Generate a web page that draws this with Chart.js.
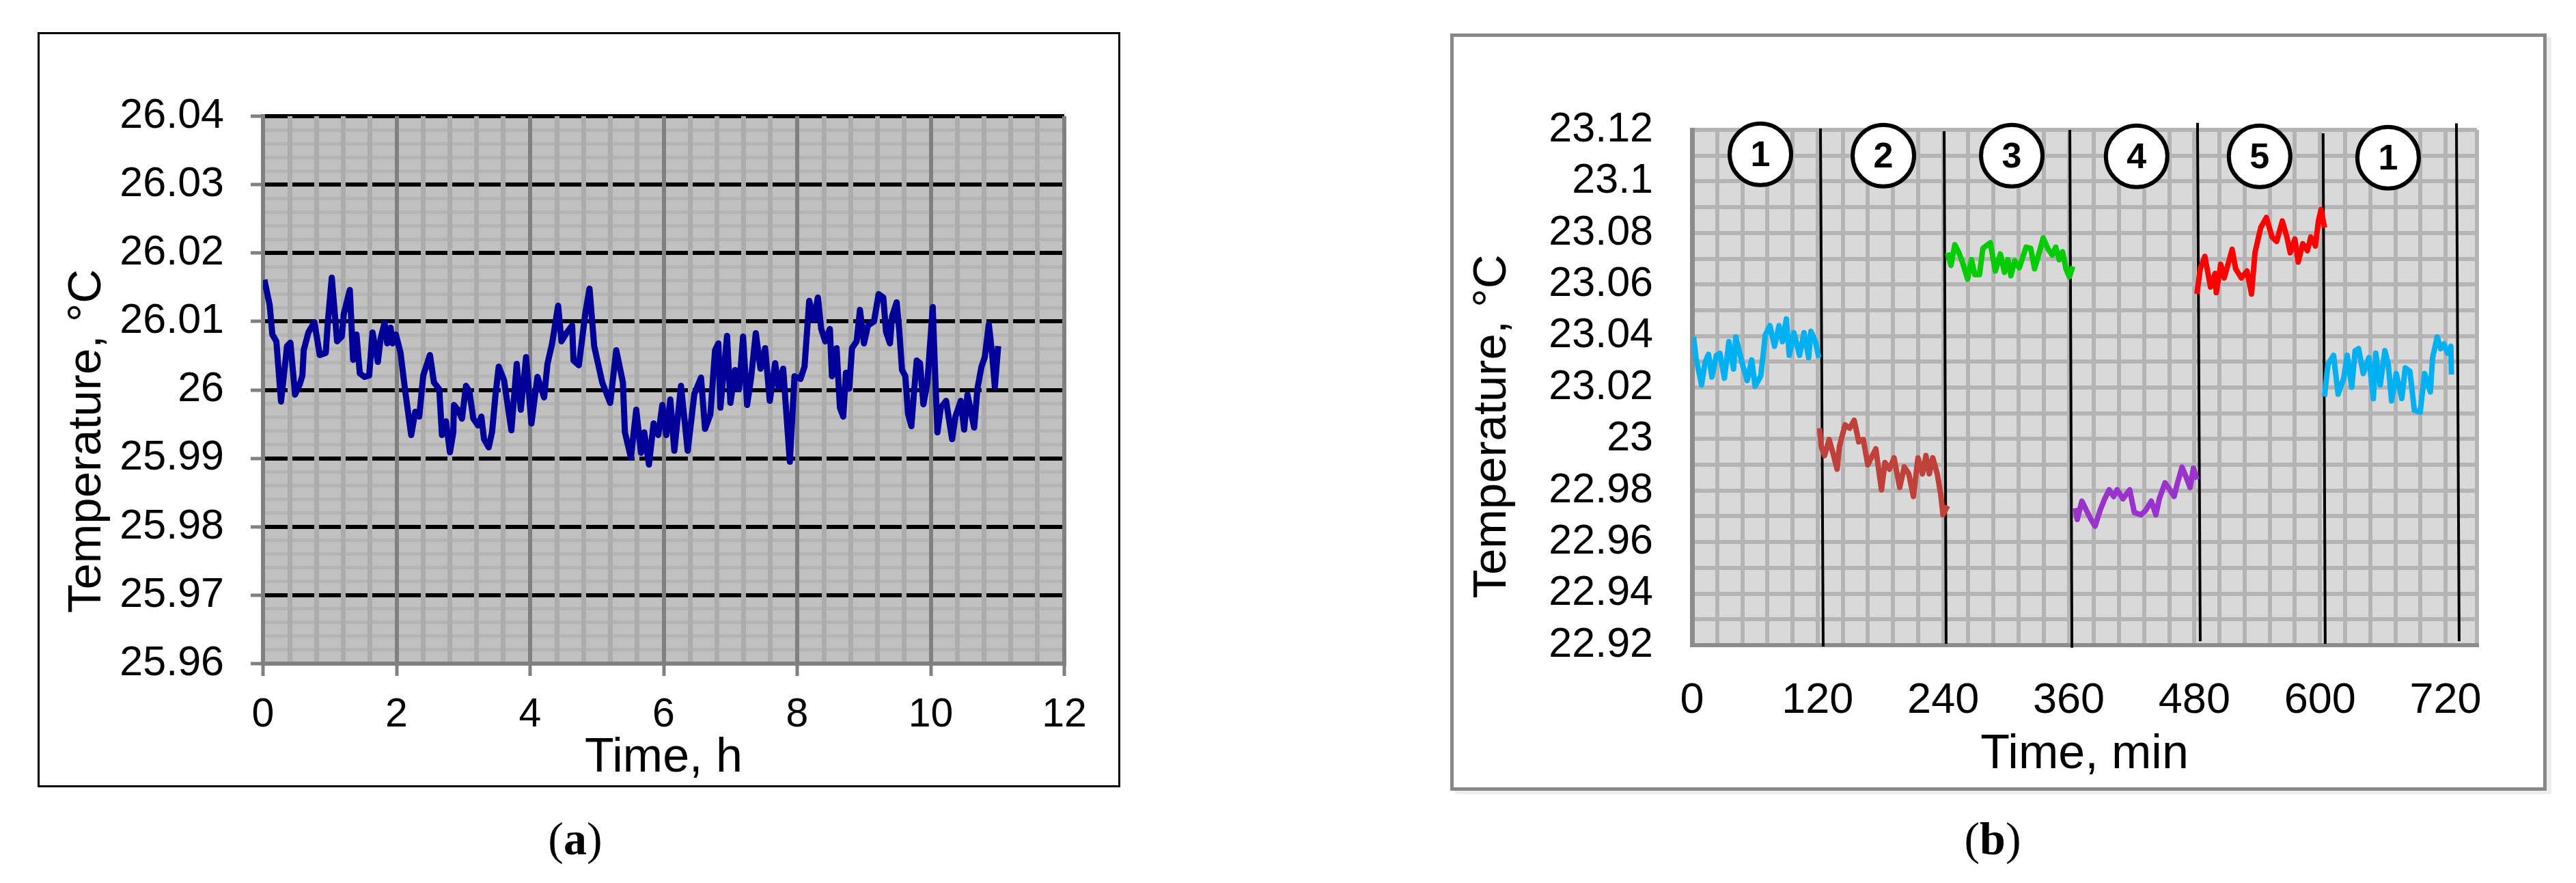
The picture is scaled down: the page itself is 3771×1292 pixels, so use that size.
<!DOCTYPE html>
<html>
<head>
<meta charset="utf-8">
<script src="https://cdn.jsdelivr.net/npm/chart.js@4.4.1/dist/chart.umd.min.js"></script>
<style>
body{margin:0;background:#fff;width:3771px;height:1292px;position:relative;overflow:hidden}
#boxA{position:absolute;left:55px;top:47px;width:1585px;height:1105px;border:3px solid #000;box-sizing:border-box}
#boxB{position:absolute;left:2123px;top:49px;width:1605px;height:1108px;border:5px solid #888;box-sizing:border-box;box-shadow:7px 5px 0 #efefef}
canvas{display:block}
.cap{position:absolute;font-family:"Liberation Serif","Times New Roman",serif;font-size:68px;line-height:1;transform:translate(-50%,-50%)}
</style>
</head>
<body>
<div id="boxA"><canvas id="chartA" width="1579" height="1099"></canvas></div>
<div id="boxB"><canvas id="chartB" width="1595" height="1098"></canvas></div>
<div class="cap" style="left:842px;top:1227px">(<b>a</b>)</div>
<div class="cap" style="left:2917px;top:1227px">(<b>b</b>)</div>
<script>
// ---- panel (a): temperature over 11 hours
var aHours = [0.02,0.10,0.14,0.20,0.27,0.36,0.41,0.48,0.55,0.59,0.61,0.68,0.77,0.85,0.94,0.97,1.03,1.11,1.18,1.21,
  1.30,1.35,1.40,1.45,1.52,1.59,1.64,1.72,1.76,1.82,1.86,1.91,1.94,1.99,2.06,2.13,2.22,2.28,2.34,2.40,
  2.50,2.56,2.64,2.68,2.74,2.80,2.85,2.86,2.92,2.98,3.04,3.09,3.15,3.22,3.27,3.31,3.38,3.43,3.48,3.53,
  3.61,3.67,3.72,3.80,3.86,3.94,4.02,4.11,4.21,4.26,4.33,4.42,4.47,4.55,4.63,4.65,4.73,4.83,4.89,4.96,
  5.08,5.20,5.29,5.39,5.42,5.51,5.59,5.66,5.71,5.78,5.85,5.92,5.98,6.04,6.10,6.16,6.26,6.36,6.46,6.56,
  6.62,6.70,6.77,6.82,6.85,6.95,7.00,7.07,7.13,7.19,7.25,7.31,7.38,7.45,7.52,7.59,7.67,7.72,7.79,7.89,
  7.96,8.05,8.11,8.18,8.25,8.31,8.36,8.42,8.49,8.52,8.59,8.64,8.69,8.73,8.78,8.82,8.89,8.94,9.00,9.06,
  9.15,9.22,9.29,9.33,9.39,9.42,9.49,9.53,9.57,9.62,9.66,9.71,9.75,9.79,9.84,9.89,9.95,10.03,10.06,10.10,
  10.15,10.23,10.32,10.37,10.45,10.50,10.55,10.65,10.70,10.76,10.81,10.87,10.92,10.96,11.01];
var aTemp = [26.0161,26.0124,26.0081,26.0071,25.9983,26.0064,26.0069,25.9993,26.0008,26.0021,26.0058,26.0084,26.0099,26.0051,26.0054,26.0098,26.0164,26.0071,26.0078,26.0111,
  26.0146,26.0044,26.0081,26.0024,26.0019,26.0021,26.0084,26.0041,26.0074,26.0098,26.0068,26.0091,26.0068,26.0081,26.0054,25.9998,25.9934,25.9968,25.9961,26.0021,
  26.0051,26.0011,26.0001,25.9934,25.9954,25.9909,25.9938,25.9978,25.9971,25.9958,26.0006,25.9998,25.9958,25.9948,25.9961,25.9928,25.9916,25.9938,25.9991,26.0034,
  26.0014,25.9974,25.9941,26.0038,25.9971,26.0048,25.9951,26.0019,25.9989,26.0038,26.0068,26.0123,26.0071,26.0084,26.0094,26.0043,26.0036,26.0114,26.0148,26.0064,
  26.0011,25.9981,26.0058,26.0011,25.9938,25.9901,25.9971,25.9908,25.9938,25.9891,25.9951,25.9934,25.9978,25.9934,25.9986,25.9911,26.0006,25.9911,25.9994,26.0018,
  25.9943,25.9964,26.0058,26.0068,25.9974,26.0079,25.9981,26.0029,26.0001,26.0078,25.9978,26.0018,26.0083,26.0031,26.0061,25.9984,26.0039,26.0004,26.0031,25.9895,
  26.0020,26.0016,26.0034,26.0130,26.0103,26.0135,26.0089,26.0071,26.0089,26.0020,26.0061,25.9974,25.9961,26.0025,26.0002,26.0061,26.0071,26.0117,26.0068,26.0094,
  26.0100,26.0140,26.0135,26.0085,26.0068,26.0107,26.0128,26.0085,26.0029,26.0020,25.9965,25.9947,25.9997,26.0043,26.0039,25.9979,26.0011,26.0121,26.0039,25.9938,
  25.9974,25.9984,25.9928,25.9961,25.9984,25.9942,25.9993,25.9945,26.0002,26.0034,26.0048,26.0096,26.0052,26.0004,26.0064];

// ---- panel (b): six measurement runs
var b1Min = [1.5,3.7,9.1,12.4,15.7,18.9,23.3,26.6,30.9,35.2,39.6,41.8,48.3,52.7,57.0,60.2,65.7,70.0,74.4,78.8,83.1,86.4,90.1,92.9,97.3,102.7,107.0,111.4,113.6,117.9,121.2];
var b1Temp = [23.0396,23.0316,23.0210,23.0298,23.0329,23.0241,23.0325,23.0333,23.0236,23.0378,23.0272,23.0396,23.0289,23.0227,23.0307,23.0205,23.0245,23.0404,23.0440,23.0360,23.0440,23.0378,23.0466,23.0325,23.0413,23.0325,23.0413,23.0316,23.0418,23.0378,23.0316];
var b2Min = [121.9,123.4,126.6,131.0,135.3,138.6,140.8,146.2,150.6,154.9,159.3,163.6,168.0,172.3,175.6,181.0,184.3,188.6,193.0,198.4,202.8,207.1,211.5,215.9,220.2,223.5,226.7,230.0,234.3,237.6,239.8,244.1];
var b2Temp = [23.0042,22.9971,22.9936,22.9998,22.9936,22.9883,22.9971,23.0055,23.0042,23.0073,22.9989,22.9998,22.9900,22.9936,22.9962,22.9803,22.9909,22.9883,22.9927,22.9812,22.9892,22.9865,22.9777,22.9927,22.9865,22.9936,22.9865,22.9927,22.9865,22.9786,22.9706,22.9741];
var b3Min = [244.1,247.4,251.1,255.0,258.3,263.3,267.0,270.2,274.6,277.9,285.0,289.8,294.6,298.5,301.8,304.7,308.3,312.7,319.2,323.6,327.3,330.1,335.5,339.9,344.2,347.5,350.8,354.0,357.3,360.5,363.8];
var b3Temp = [23.0723,23.0674,23.0754,23.0723,23.0687,23.0621,23.0696,23.0638,23.0638,23.0740,23.0762,23.0652,23.0718,23.0647,23.0696,23.0634,23.0692,23.0665,23.0745,23.0740,23.0661,23.0700,23.0780,23.0740,23.0714,23.0745,23.0696,23.0727,23.0661,23.0630,23.0670];
var b4Min = [366.0,368.1,372.5,376.8,381.2,385.1,389.9,394.3,398.6,402.9,406.2,411.7,418.2,422.6,429.1,433.4,438.8,443.2,446.5,451.9,455.2,460.6,463.9,468.2,472.6,475.9,479.1,482.4];
var b4Temp = [22.9732,22.9688,22.9759,22.9723,22.9688,22.9662,22.9723,22.9768,22.9803,22.9777,22.9803,22.9768,22.9803,22.9715,22.9706,22.9723,22.9759,22.9706,22.9768,22.9830,22.9812,22.9777,22.9830,22.9891,22.9847,22.9812,22.9887,22.9843];
var b5Min = [482.4,485.6,490.0,495.4,499.8,500.9,505.2,508.5,516.1,519.4,524.8,530.3,534.6,537.9,543.3,548.8,554.2,558.6,564.0,568.4,571.6,576.0,579.2,583.6,588.0,591.2,595.6,598.5,601.1,604.3];
var b5Temp = [23.0563,23.0661,23.0709,23.0590,23.0643,23.0568,23.0678,23.0625,23.0736,23.0661,23.0625,23.0652,23.0563,23.0723,23.0820,23.0860,23.0784,23.0767,23.0846,23.0784,23.0723,23.0776,23.0687,23.0758,23.0731,23.0784,23.0749,23.0846,23.0891,23.0820];
var b6Min = [604.3,607.6,613.0,617.3,622.7,626.0,630.4,633.6,636.9,641.3,646.7,651.0,653.3,657.6,662.0,665.3,668.4,672.9,678.2,681.5,685.9,690.2,695.7,700.0,705.5,707.6,712.0,715.3,718.5,721.8,725.1,725.6];
var b6Temp = [23.0165,23.0289,23.0325,23.0174,23.0236,23.0325,23.0201,23.0343,23.0351,23.0254,23.0316,23.0157,23.0333,23.0210,23.0343,23.0289,23.0148,23.0254,23.0157,23.0276,23.0263,23.0112,23.0104,23.0254,23.0183,23.0316,23.0396,23.0351,23.0369,23.0333,23.0360,23.0250];
var segColors = ['#00b0f0', '#c0403a', '#00cc00', '#9933cc', '#ff0000', '#00b0f0'];

// black separator lines between runs
var sepTopMin = [122.7, 240.9, 361.0, 483.0, 603.0, 730.4];
var sepBotMin = [125.3, 242.8, 363.0, 485.6, 605.0, 733.0];
var sepTopTemp = [23.1205, 23.1195, 23.1200, 23.1227, 23.1187, 23.1225];
var sepBotTemp = [22.9195, 22.9205, 22.9190, 22.9215, 22.9205, 22.9215];

// circled run numbers
var circleMin = [65.3, 182.8, 305.5, 424.8, 542.3, 665.1];
var circleTemp = [23.1105, 23.1100, 23.1100, 23.1097, 23.1097, 23.1092];
var circleText = ['1', '2', '3', '4', '5', '1'];

var FAM = '"Liberation Sans", Arial, sans-serif';
Chart.defaults.color = '#000';
Chart.defaults.font.family = FAM;

function pts(xs, ys) {
	return xs.map(function(x, i) { return {x: x, y: ys[i]}; });
}
function fmt(v) {
	return String(Number(v.toFixed(2)));
}

var plotBg = {
	id: 'plotBg',
	beforeDraw: function(chart, args, opts) {
		var a = chart.chartArea, c = chart.ctx;
		c.save();
		c.fillStyle = opts.color;
		c.fillRect(a.left, a.top, a.right - a.left, a.bottom - a.top);
		c.restore();
	}
};
var yTitle = {
	id: 'yTitle',
	afterDraw: function(chart, args, opts) {
		var a = chart.chartArea, c = chart.ctx;
		c.save();
		c.translate(a.left + opts.dx, (a.top + a.bottom) / 2 + opts.dy);
		c.rotate(-Math.PI / 2);
		c.font = '69px ' + FAM;
		c.fillStyle = '#000';
		c.textAlign = 'center';
		c.textBaseline = 'middle';
		c.fillText(opts.text, 0, 0);
		c.restore();
	}
};
var circleNums = {
	id: 'circleNums',
	afterDatasetsDraw: function(chart, args, opts) {
		var meta = chart.getDatasetMeta(opts.index), c = chart.ctx;
		c.save();
		c.font = 'bold 52px ' + FAM;
		c.fillStyle = '#000';
		c.textAlign = 'center';
		c.textBaseline = 'middle';
		meta.data.forEach(function(p, i) { c.fillText(circleText[i], p.x, p.y + 3); });
		c.restore();
	}
};

// ---------- chart (a)
function isMajorA_y(v) { return Math.abs(v * 100 - Math.round(v * 100)) < 1e-6; }
function isMajorA_x(v) { return Math.abs(v / 2 - Math.round(v / 2)) < 1e-6; }

new Chart(document.getElementById('chartA'), {
	type: 'scatter',
	data: {
		datasets: [{
			data: pts(aHours, aTemp),
			showLine: true,
			borderColor: '#000099',
			borderWidth: 9,
			borderJoinStyle: 'round',
			pointRadius: 0,
			tension: 0
		}]
	},
	options: {
		responsive: false,
		animation: false,
		events: [],
		layout: {padding: {left: 0, right: 79, top: 120, bottom: 0}},
		plugins: {
			legend: {display: false},
			tooltip: {enabled: false},
			plotBg: {color: '#c0c0c0'},
			yTitle: {text: 'Temperature, °C', dx: -257, dy: 75}
		},
		scales: {
			y: {
				min: 25.96, max: 26.04,
				afterFit: function(s) { s.width = 327; },
				ticks: {
					stepSize: 0.002, autoSkip: false, padding: 39,
					font: {size: 61},
					callback: function(v) { return isMajorA_y(v) ? fmt(v) : ''; }
				},
				grid: {
					z: -2,
					color: function(c) {
						var v = c.tick.value;
						if (Math.abs(v - 25.96) < 1e-6) return '#808080';
						return isMajorA_y(v) ? '#000000' : '#b4b4b4';
					},
					lineWidth: function(c) { return isMajorA_y(c.tick.value) ? 6 : 5; },
					tickLength: 18,
					tickWidth: 5,
					tickColor: function(c) { return isMajorA_y(c.tick.value) ? '#808080' : 'rgba(0,0,0,0)'; }
				},
				border: {color: '#808080', width: 6}
			},
			x: {
				min: 0, max: 12,
				afterFit: function(s) { s.height = 178; },
				ticks: {
					stepSize: 0.4, autoSkip: false, maxRotation: 0, padding: 22,
					font: {size: 59},
					callback: function(v) { return isMajorA_x(v) ? fmt(v) : ''; }
				},
				grid: {
					z: -1,
					color: function(c) { return isMajorA_x(c.tick.value) ? '#808080' : '#acacac'; },
					lineWidth: function(c) { return isMajorA_x(c.tick.value) ? 6 : 7; },
					tickLength: 18,
					tickWidth: 5,
					tickColor: function(c) { return isMajorA_x(c.tick.value) ? '#808080' : 'rgba(0,0,0,0)'; }
				},
				border: {color: '#808080', width: 6},
				title: {display: true, text: 'Time, h', font: {size: 70, lineHeight: 1}, padding: {top: 4, bottom: 4}}
			}
		}
	},
	plugins: [plotBg, yTitle]
});

// ---------- chart (b)
var bSets = [];
var segMins = [b1Min, b2Min, b3Min, b4Min, b5Min, b6Min];
var segTemps = [b1Temp, b2Temp, b3Temp, b4Temp, b5Temp, b6Temp];
for (var i = 0; i < 6; i++) {
	bSets.push({
		data: pts(segMins[i], segTemps[i]),
		showLine: true,
		borderColor: segColors[i],
		borderWidth: 8,
		borderJoinStyle: 'round',
		pointRadius: 0,
		tension: 0
	});
}
for (var j = 0; j < sepTopMin.length; j++) {
	bSets.push({
		data: [{x: sepTopMin[j], y: sepTopTemp[j]}, {x: sepBotMin[j], y: sepBotTemp[j]}],
		showLine: true,
		borderColor: '#000',
		borderWidth: 4,
		pointRadius: 0,
		clip: false
	});
}
bSets.push({
	data: pts(circleMin, circleTemp),
	showLine: false,
	pointRadius: 45,
	pointBackgroundColor: '#fff',
	pointBorderColor: '#000',
	pointBorderWidth: 6,
	clip: false
});

new Chart(document.getElementById('chartB'), {
	type: 'scatter',
	data: {datasets: bSets},
	options: {
		responsive: false,
		animation: false,
		events: [],
		layout: {padding: {left: 0, right: 97, top: 136, bottom: 0}},
		plugins: {
			legend: {display: false},
			tooltip: {enabled: false},
			plotBg: {color: '#d9d9d9'},
			yTitle: {text: 'Temperature, °C', dx: -292, dy: 57},
			circleNums: {index: bSets.length - 1}
		},
		scales: {
			y: {
				min: 22.92, max: 23.12,
				afterFit: function(s) { s.width = 349; },
				ticks: {
					stepSize: 0.01, autoSkip: false, padding: 57,
					font: {size: 61},
					callback: function(v) { return Math.round(v * 100) % 2 === 0 ? fmt(v) : ''; }
				},
				grid: {z: -2, color: '#b4b4b4', lineWidth: 6, drawTicks: false},
				border: {color: '#8c8c8c', width: 7}
			},
			x: {
				min: 0, max: 750,
				afterFit: function(s) { s.height = 208; },
				ticks: {
					stepSize: 24, autoSkip: false, maxRotation: 0, padding: 44,
					font: {size: 63},
					callback: function(v) { return v % 120 === 0 ? String(v) : ''; }
				},
				grid: {z: -1, color: '#b4b4b4', lineWidth: 6, drawTicks: false},
				border: {color: '#8c8c8c', width: 6},
				title: {display: true, text: 'Time, min', font: {size: 70, lineHeight: 1}, padding: {top: 12, bottom: 12}}
			}
		}
	},
	plugins: [plotBg, yTitle, circleNums]
});
</script>
</body>
</html>
